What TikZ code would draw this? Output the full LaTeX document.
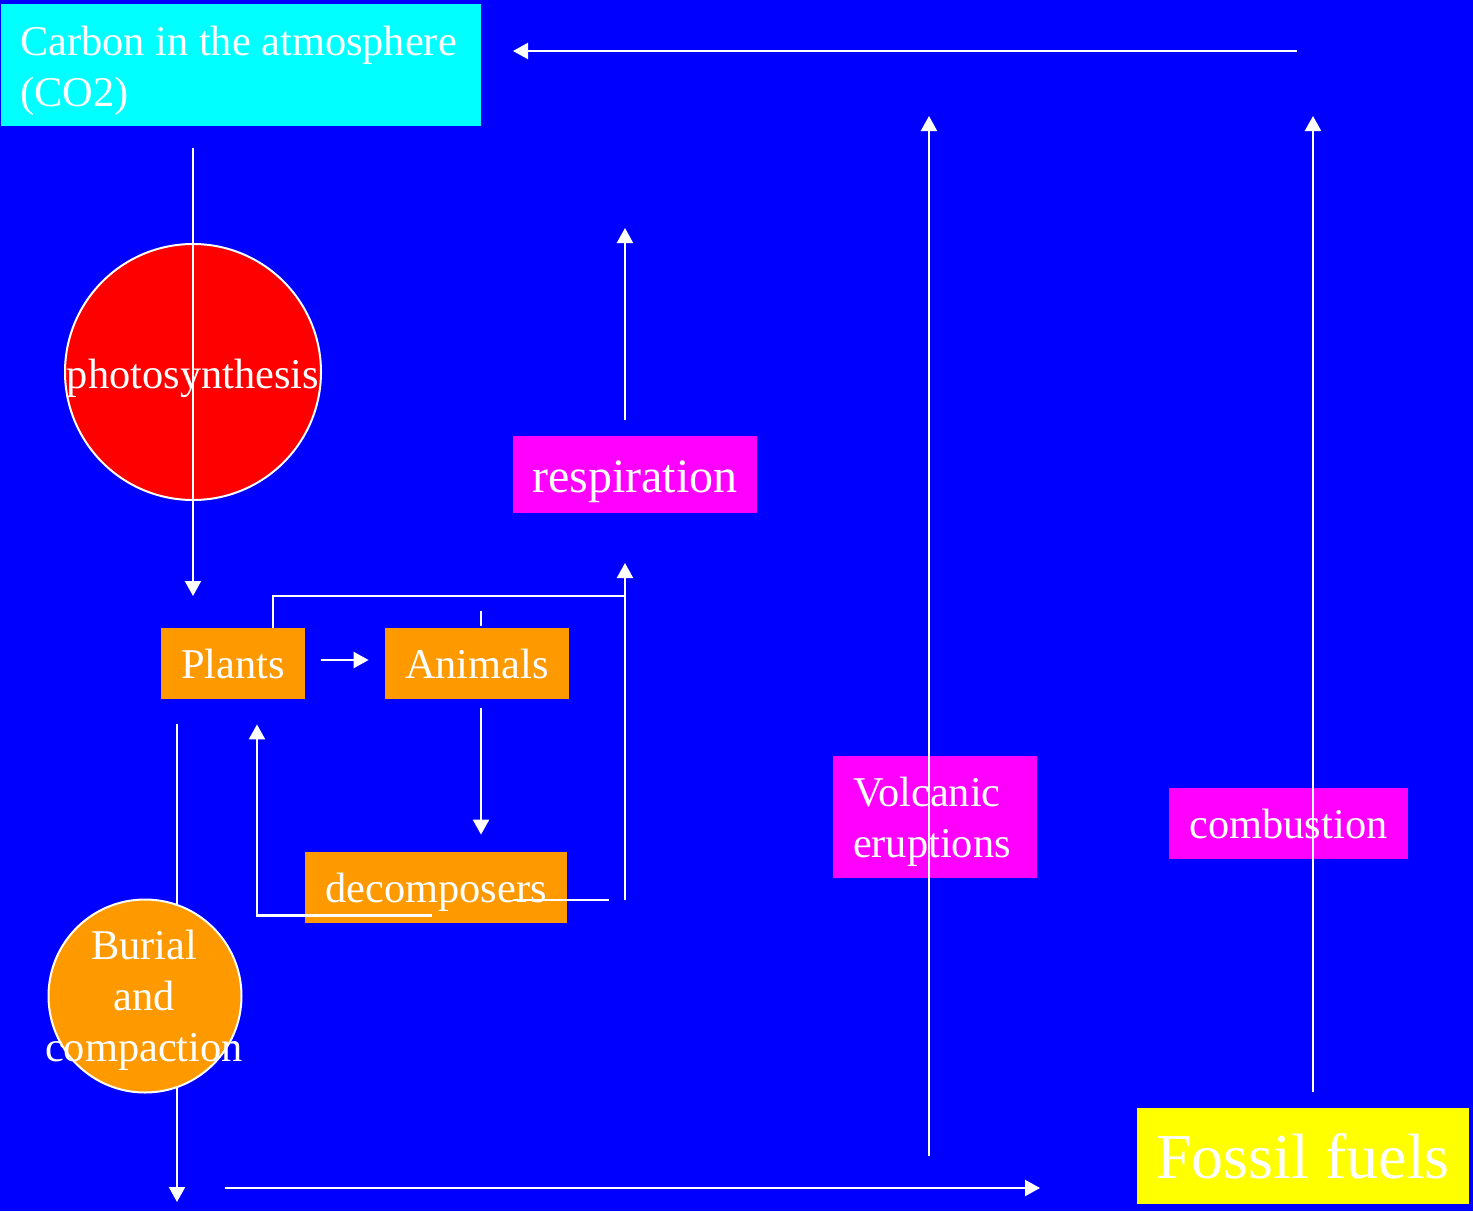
\documentclass[tikz,border=0pt]{standalone}
\usepackage{fontspec}
\setmainfont{Liberation Serif}
\usetikzlibrary{arrows.meta}

\definecolor{slideblue}{RGB}{0,0,255}
\definecolor{skycyan}{RGB}{0,255,255}
\definecolor{cycleorange}{RGB}{255,153,0}
\definecolor{processpink}{RGB}{255,0,255}
\definecolor{fuelyellow}{RGB}{255,255,0}

\tikzset{
  slidetext/.style={text=white, inner sep=0pt, font=\fontsize{21.2}{25.5}\selectfont},
  slidebox/.style={slidetext, rectangle},
  oneline/.style={slidebox, text depth=0pt},
  blob/.style={circle, draw=white, line width=1pt, inner sep=0pt},
  link/.style={draw=white, line width=1.1pt},
  flow/.style={link, -{Triangle[width=8pt,length=7.5pt]}}
}

\begin{document}
\begin{tikzpicture}[x=0.5pt,y=-0.5pt]

% Background
\fill[slideblue] (0,0) rectangle (1473,1211);
\useasboundingbox (0,0) rectangle (1473,1211);

% Atmosphere
\node[slidebox, fill=skycyan, minimum width=240pt, minimum height=61pt,
      text width=221pt, text height=20.1pt, align=flush left] (carbon) at (241,65)
      {Carbon in the atmosphere\\(CO2)};

% Photosynthesis
\node[blob, fill=red, minimum size=128pt] (photo) at (193,372) {};
\node[slidetext, anchor=base] (photoText) at (193,388) {photosynthesis};

% Respiration
\node[oneline, fill=processpink, minimum width=122pt, minimum height=38.5pt,
      text height=17.7pt, font=\fontsize{24}{28}\selectfont] (resp) at (635,474.5) {respiration};

% Living things
\node[oneline, fill=cycleorange, minimum width=72pt, minimum height=35.5pt]
      (plants) at (233,663.5) {Plants};
\node[oneline, fill=cycleorange, minimum width=92pt, minimum height=35.5pt]
      (animals) at (477,663.5) {Animals};
\node[oneline, fill=cycleorange, minimum width=131pt, minimum height=35.5pt]
      (decomp) at (436,887.5) {decomposers};

% Volcanoes and burning
\node[slidebox, fill=processpink, minimum width=102pt, minimum height=61pt,
      text width=82pt, text height=19.8pt, align=flush left] (volcano) at (935,817)
      {Volcanic\\eruptions};
\node[oneline, fill=processpink, minimum width=119.5pt, minimum height=35.5pt]
      (combust) at (1288.5,823.5) {combustion};
\node[oneline, fill=fuelyellow, minimum width=166pt, minimum height=48pt,
      font=\fontsize{32}{36}\selectfont] (fossil) at (1303,1156) {Fossil fuels};

% Free ends
\coordinate (atmIn) at (513,51);
\coordinate (fuelOut) at (1297,51);
\coordinate (carbonOut) at (193,148);
\coordinate (plantsIn) at (193,596);
\coordinate (respIn) at (625,563);
\coordinate (respBase) at (625,900);
\coordinate (respTop) at (625,228);
\coordinate (respOut) at (625,420);
\coordinate (plantsDown) at (177,724);
\coordinate (buryEnd) at (177,1202);
\coordinate (seamStart) at (225,1188);
\coordinate (seamEnd) at (1040,1188);
\coordinate (volcLow) at (929,1156);
\coordinate (volcTop) at (929,116);
\coordinate (fuelLow) at (1313,1092);
\coordinate (fuelTop) at (1313,116);

% Burial (line runs behind the circle)
\draw[flow] (plantsDown) -- (buryEnd);
\node[blob, fill=cycleorange, minimum size=96.5pt] (burial) at (145,996) {};
\node[slidetext, align=flush center] (burialText) at (144,1000)
      {Burial\\and\\compaction};

% Exchanges with the atmosphere
\draw[flow] (fuelOut) -- (atmIn);
\draw[flow] (carbonOut) -- (plantsIn);
\draw[flow] (respOut) -- (respTop);
\draw[flow] (volcLow) -- (volcTop);
\draw[flow] (fuelLow) -- (fuelTop);
\draw[flow] (seamStart) -- (seamEnd);

% Food chain
\draw[flow] ([xshift=8pt,yshift=1.75pt]plants.east) -- ([xshift=-8pt,yshift=1.75pt]animals.west);
\draw[flow] ([yshift=-4.5pt]animals.south -| 481,0) -- ([yshift=8.5pt]decomp.north -| 481,0);
\draw[flow] ([xshift=-2pt,yshift=-14pt]decomp.center) -| ([xshift=12pt,yshift=-12.5pt]plants.south);

% Respiration loop
\draw[link] ([xshift=20pt]plants.north) |- (respIn |- plantsIn);
\draw[link] (animals.north -| 481,0) ++(0,-17) -- ++(0,15);
\draw[link] ([xshift=38.5pt,yshift=-6.25pt]decomp.center) -- ++(96,0);
\draw[flow] (respBase) -- (respIn);

\end{tikzpicture}
\end{document}
